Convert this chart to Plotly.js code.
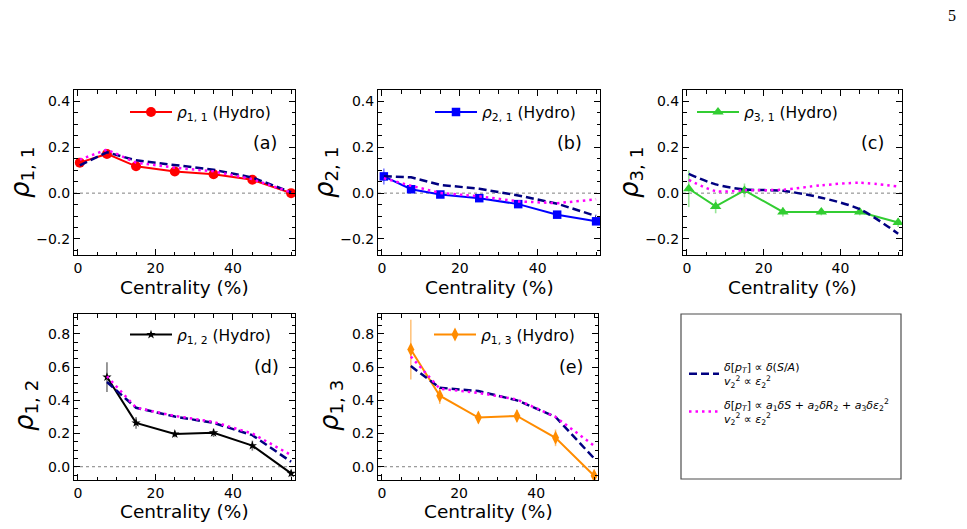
<!DOCTYPE html>
<html>
<head>
<meta charset="utf-8">
<script src="https://cdn.plot.ly/plotly-3.0.1.min.js"></script>
<style>
  html, body { margin: 0; padding: 0; background: #ffffff; }
  #chart { width: 967px; height: 529px; }
</style>
</head>
<body>
<div id="chart"></div>
<script>
// Centrality bins (%)
const centralityTop = [0.5, 7.5, 15, 25, 35, 45, 55];
const centralityBottom = [7.5, 15, 25, 35, 45, 55];

// (a) rho_{1,1}
const rho11Hydro = [0.133, 0.171, 0.117, 0.094, 0.082, 0.058, 0.0];
const rho11Err   = [0.012, 0.012, 0.010, 0.010, 0.010, 0.010, 0.010];
const rho11SA    = [0.121, 0.178, 0.143, 0.121, 0.102, 0.068, 0.004];
const rho11Mix   = [0.146, 0.190, 0.133, 0.111, 0.095, 0.061, 0.003];

// (b) rho_{2,1}
const rho21Hydro = [0.073, 0.017, -0.006, -0.022, -0.048, -0.094, -0.123];
const rho21Err   = [0.035, 0.012, 0.010, 0.010, 0.010, 0.010, 0.012];
const rho21SA    = [0.074, 0.069, 0.036, 0.019, -0.010, -0.046, -0.100];
const rho21Mix   = [0.065, 0.032, 0.001, -0.014, -0.036, -0.044, -0.027];

// (c) rho_{3,1}
const rho31Hydro = [0.019, -0.058, 0.012, -0.082, -0.082, -0.082, -0.128];
const rho31Err   = [0.080, 0.030, 0.030, 0.020, 0.015, 0.015, 0.020];
const rho31SA    = [0.084, 0.038, 0.016, 0.010, -0.020, -0.070, -0.177];
const rho31Mix   = [0.058, 0.009, 0.012, 0.015, 0.034, 0.045, 0.029];

// (d) rho_{1,2}
const rho12Hydro = [0.540, 0.264, 0.197, 0.204, 0.127, -0.040];
const rho12Err   = [0.090, 0.035, 0.020, 0.025, 0.030, 0.020];
const rho12SA    = [0.510, 0.355, 0.302, 0.264, 0.190, 0.030];
const rho12Mix   = [0.545, 0.356, 0.306, 0.270, 0.200, 0.070];

// (e) rho_{1,3}
const rho13Hydro = [0.706, 0.428, 0.296, 0.306, 0.174, -0.054];
const rho13Err   = [0.180, 0.050, 0.035, 0.035, 0.050, 0.030];
const rho13SA    = [0.606, 0.476, 0.456, 0.400, 0.300, 0.050];
const rho13Mix   = [0.664, 0.470, 0.445, 0.405, 0.300, 0.126];

// Text
const xTickVals = [0, 20, 40];
const xTitleText = 'Centrality (%)';
const panelTags = ['(a)', '(b)', '(c)', '(d)', '(e)'];
const yTitles = ['<i>ρ</i><sub>1, 1</sub>', '<i>ρ</i><sub>2, 1</sub>', '<i>ρ</i><sub>3, 1</sub>',
                 '<i>ρ</i><sub>1, 2</sub>', '<i>ρ</i><sub>1, 3</sub>'];
const hydroNames = ['<i>ρ</i><sub>1, 1</sub> (Hydro)', '<i>ρ</i><sub>2, 1</sub> (Hydro)',
                    '<i>ρ</i><sub>3, 1</sub> (Hydro)', '<i>ρ</i><sub>1, 2</sub> (Hydro)',
                    '<i>ρ</i><sub>1, 3</sub> (Hydro)'];
const modelSAName = '<i>δ</i>[<i>p</i><sub><i>T</i></sub>] ∝ <i>δ</i>(<i>S</i>/<i>A</i>)<br><i>v</i><sub>2</sub><sup>2</sup> ∝ <i>ε</i><sub>2</sub><sup>2</sup>';
const modelMixName = '<i>δ</i>[<i>p</i><sub><i>T</i></sub>] ∝ <i>a</i><sub>1</sub><i>δS</i> + <i>a</i><sub>2</sub><i>δR</i><sub>2</sub> + <i>a</i><sub>3</sub><i>δε</i><sub>2</sub><sup>2</sup><br><i>v</i><sub>2</sub><sup>2</sup> ∝ <i>ε</i><sub>2</sub><sup>2</sup>';

const W = 967, H = 529;
const px = v => v / W;
const py = v => 1 - v / H;

const panels = [
  { cen: centralityTop, hydro: rho11Hydro, err: rho11Err, sa: rho11SA, mix: rho11Mix,
    color: '#ff0000', errColor: 'rgba(255,0,0,0.5)', symbol: 'circle', size: 10,
    xd: [74, 295], yd: [90, 255], yr: [-0.27, 0.45], ydt: 0.2, spline: false,
    leg: [125, 112.5], tag: [265, 143], ytitle: [21, 173] },
  { cen: centralityTop, hydro: rho21Hydro, err: rho21Err, sa: rho21SA, mix: rho21Mix,
    color: '#0000ff', errColor: 'rgba(0,0,255,0.5)', symbol: 'square', size: 8.5,
    xd: [378, 600], yd: [90, 255], yr: [-0.27, 0.45], ydt: 0.2, spline: false,
    leg: [430, 112.5], tag: [569, 143], ytitle: [325, 173] },
  { cen: centralityTop, hydro: rho31Hydro, err: rho31Err, sa: rho31SA, mix: rho31Mix,
    color: '#32cd32', errColor: 'rgba(50,205,50,0.5)', symbol: 'triangle-up', size: 10,
    xd: [683, 902], yd: [90, 255], yr: [-0.27, 0.45], ydt: 0.2, spline: true,
    leg: [692, 112.5], tag: [872, 143], ytitle: [630, 173] },
  { cen: centralityBottom, hydro: rho12Hydro, err: rho12Err, sa: rho12SA, mix: rho12Mix,
    color: '#000000', errColor: 'rgba(0,0,0,0.5)', symbol: 'star', size: 7,
    xd: [74, 295], yd: [314, 480], yr: [-0.08, 0.92], ydt: 0.2, spline: false,
    leg: [125, 335], tag: [266, 367], ytitle: [25, 406] },
  { cen: centralityBottom, hydro: rho13Hydro, err: rho13Err, sa: rho13SA, mix: rho13Mix,
    color: '#ff8c00', errColor: 'rgba(255,140,0,0.5)', symbol: 'diamond-tall', size: 10,
    xd: [378, 598], yd: [314, 480], yr: [-0.08, 0.92], ydt: 0.2, spline: false,
    leg: [429, 335], tag: [571, 367], ytitle: [330, 406] }
];

const traces = [];
const layout = {
  width: W, height: H,
  margin: { l: 0, r: 0, t: 0, b: 0 },
  paper_bgcolor: '#ffffff', plot_bgcolor: '#ffffff',
  font: { family: 'DejaVu Sans, sans-serif', color: '#000000', size: 13 },
  showlegend: true,
  shapes: [], annotations: []
};

const axisBase = {
  showline: true, linecolor: '#000000', linewidth: 1, mirror: 'allticks',
  ticks: 'inside', ticklen: 6, tickwidth: 1, tickcolor: '#000000',
  showgrid: false, zeroline: false,
  tickfont: { family: 'DejaVu Sans, sans-serif', size: 14, color: '#000000' },
  fixedrange: true
};

panels.forEach((p, i) => {
  const n = i === 0 ? '' : String(i + 1);
  const xa = 'x' + n, ya = 'y' + n;
  const legendId = i === 0 ? 'legend' : 'legend' + (i + 1);

  layout['xaxis' + n] = Object.assign({}, axisBase, {
    domain: [px(p.xd[0]), px(p.xd[1])], anchor: ya,
    range: [-1, 56], tickmode: 'array', tickvals: xTickVals,
    minor: { dtick: 5, tick0: 0, ticks: 'inside', ticklen: 3.5, tickcolor: '#000000', tickwidth: 1 }
  });
  layout['yaxis' + n] = Object.assign({}, axisBase, {
    domain: [py(p.yd[1]), py(p.yd[0])], anchor: xa,
    range: p.yr, tickmode: 'linear', tick0: 0, dtick: p.ydt, tickformat: '.1f',
    minor: { dtick: 0.05, tick0: 0, ticks: 'inside', ticklen: 3.5, tickcolor: '#000000', tickwidth: 1 }
  });

  // Hydro result with statistical errors
  traces.push({
    type: 'scatter', mode: 'lines+markers', xaxis: xa, yaxis: ya,
    x: p.cen, y: p.hydro, name: hydroNames[i], legend: legendId,
    line: { color: p.color, width: 2 },
    marker: { color: p.color, symbol: p.symbol, size: p.size, line: { width: 0 } },
    error_y: { type: 'data', array: p.err, visible: true, color: p.errColor, thickness: 1.6, width: 0 }
  });
  // Estimator: delta[pT] ~ delta(S/A)
  traces.push({
    type: 'scatter', mode: 'lines', xaxis: xa, yaxis: ya,
    x: p.cen, y: p.sa, name: modelSAName, legend: 'legend6', legendgroup: 'sa', showlegend: i === 0,
    line: { color: '#000080', width: 2.5, dash: '8px,4px', shape: p.spline ? 'spline' : 'linear', smoothing: 0.8 }
  });
  // Estimator: delta[pT] ~ a1 dS + a2 dR2 + a3 d eps2^2
  traces.push({
    type: 'scatter', mode: 'lines', xaxis: xa, yaxis: ya,
    x: p.cen, y: p.mix, name: modelMixName, legend: 'legend6', legendgroup: 'mix', showlegend: i === 0,
    line: { color: '#ff00ff', width: 2.5, dash: '2.5px,4px', shape: p.spline ? 'spline' : 'linear', smoothing: 0.8 }
  });

  layout[legendId] = {
    x: px(p.leg[0]), xanchor: 'left', y: py(p.leg[1]), yanchor: 'middle',
    bgcolor: 'rgba(0,0,0,0)', borderwidth: 0, itemwidth: 42,
    font: { family: 'DejaVu Sans, sans-serif', size: 15.5, color: '#000000' },
    itemclick: false, itemdoubleclick: false
  };

  // dotted reference line at zero
  layout.shapes.push({
    type: 'line', xref: xa + ' domain', x0: 0, x1: 1, yref: ya, y0: 0, y1: 0,
    line: { color: '#808080', width: 1, dash: 'dot' }, layer: 'below'
  });

  // panel tag
  layout.annotations.push({
    xref: 'paper', yref: 'paper', x: px(p.tag[0]), y: py(p.tag[1]),
    xanchor: 'center', yanchor: 'middle', showarrow: false, text: panelTags[i],
    font: { family: 'DejaVu Sans, sans-serif', size: 17.5, color: '#000000' }
  });
  // x title
  layout.annotations.push({
    xref: 'paper', yref: 'paper', x: (px(p.xd[0]) + px(p.xd[1])) / 2,
    y: py(i < 3 ? 287 : 511), xanchor: 'center', yanchor: 'middle', showarrow: false,
    text: xTitleText, font: { family: 'DejaVu Sans, sans-serif', size: 18.5, color: '#000000' }
  });
  // y title
  layout.annotations.push({
    xref: 'paper', yref: 'paper', x: px(p.ytitle[0]), y: py(p.ytitle[1]),
    xanchor: 'center', yanchor: 'middle', showarrow: false, textangle: -90,
    text: yTitles[i], font: { family: 'DejaVu Sans, sans-serif', size: 26, color: '#000000' }
  });
});

// Frame holding the estimator legend
layout.shapes.push({
  type: 'rect', xref: 'paper', yref: 'paper',
  x0: px(681), x1: px(901), y0: py(479), y1: py(314),
  line: { color: '#4d4d4d', width: 1.2 }, fillcolor: 'rgba(0,0,0,0)'
});
layout.legend6 = {
  x: px(684), xanchor: 'left', y: py(393), yanchor: 'middle',
  bgcolor: 'rgba(0,0,0,0)', borderwidth: 0, tracegroupgap: 6, itemwidth: 30,
  font: { family: 'DejaVu Sans, sans-serif', size: 11, color: '#000000' },
  itemclick: false, itemdoubleclick: false
};

// Page number
layout.annotations.push({
  xref: 'paper', yref: 'paper', x: px(952), y: py(15), xanchor: 'center', yanchor: 'middle',
  showarrow: false, text: '5', font: { family: 'Liberation Serif, DejaVu Serif, serif', size: 16, color: '#000000' }
});

Plotly.newPlot('chart', traces, layout, { staticPlot: true, displayModeBar: false });
</script>
</body>
</html>
